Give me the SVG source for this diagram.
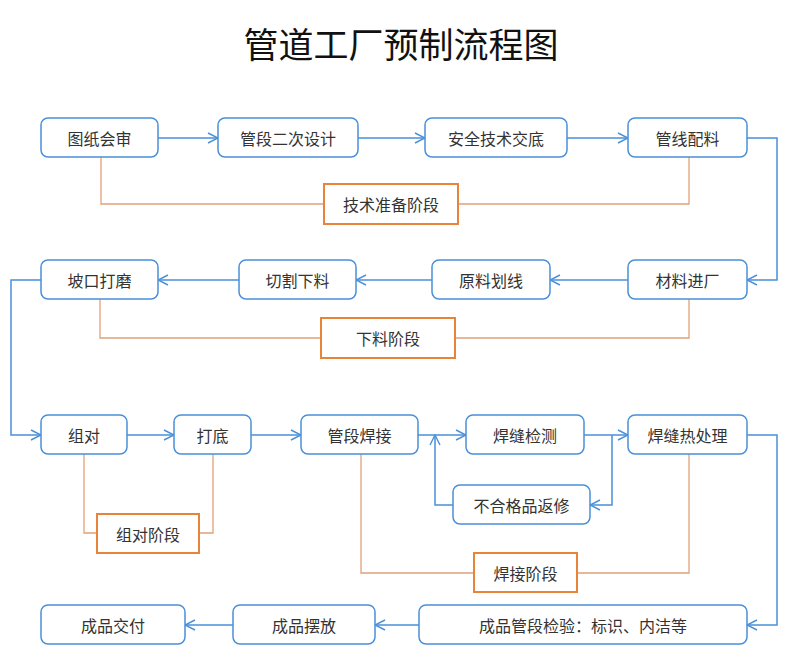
<svg xmlns="http://www.w3.org/2000/svg" width="800" height="667" viewBox="0 0 800 667">
<defs>
<marker id="a" markerWidth="12" markerHeight="12" refX="11" refY="6" orient="auto" markerUnits="userSpaceOnUse"><path d="M1,1 L11,6 L1,11" fill="none" stroke="#4a90d9" stroke-width="1.4"/></marker>
</defs>
<style>
.n rect{fill:#fff;stroke:#4a90d9;stroke-width:1.5}
.s rect{fill:#fff;stroke:#e8843a;stroke-width:2}
text{font-family:"Noto Sans CJK SC","Liberation Sans",sans-serif;font-size:16px;fill:#333;text-anchor:middle;dominant-baseline:central}
.c path{fill:none;stroke:#4a90d9;stroke-width:1.5;marker-end:url(#a)}
.b path{fill:none;stroke:#e0a07a;stroke-width:1.3}
</style>
<rect width="800" height="667" fill="#fff"/>
<text x="401" y="42" style="font-size:35px;fill:#111">管道工厂预制流程图</text>
<g class="b">
<path d="M101,157 V204 H324 M458,204 H689 V157"/>
<path d="M100,299 V338 H321 M455,338 H689 V299"/>
<path d="M84,454 V533 H97 M199,533 H213 V454"/>
<path d="M361,454 V573 H474 M577,573 H689 V454"/>
</g>
<g class="c">
<path d="M158,138 H218"/><path d="M358,138 H425"/><path d="M567,138 H628"/>
<path d="M747,138 H777 V280 H747"/>
<path d="M628,280 H550"/><path d="M432,280 H356"/><path d="M239,280 H158"/>
<path d="M41,280 H11 V435 H41"/>
<path d="M127,435 H174"/><path d="M251,435 H301"/><path d="M418,435 H466"/><path d="M584,435 H628"/>
<path d="M612,435 V505 H590"/>
<path d="M453,505 H435 V435"/>
<path d="M747,435 H777 V625 H747"/>
<path d="M419,625 H375"/><path d="M233,625 H185"/>
</g>
<g id="n1" class="n"><rect x="41" y="118" width="117" height="39" rx="7"/><text x="99.5" y="138">图纸会审</text></g>
<g id="n2" class="n"><rect x="218" y="118" width="140" height="39" rx="7"/><text x="288" y="138">管段二次设计</text></g>
<g id="n3" class="n"><rect x="425" y="118" width="142" height="39" rx="7"/><text x="496" y="138">安全技术交底</text></g>
<g id="n4" class="n"><rect x="628" y="118" width="119" height="39" rx="7"/><text x="687.5" y="138">管线配料</text></g>
<g id="s1" class="s"><rect x="324" y="184" width="134" height="40"/><text x="391" y="204">技术准备阶段</text></g>
<g id="n5" class="n"><rect x="628" y="260" width="119" height="39" rx="7"/><text x="687.5" y="280">材料进厂</text></g>
<g id="n6" class="n"><rect x="432" y="260" width="118" height="39" rx="7"/><text x="491" y="280">原料划线</text></g>
<g id="n7" class="n"><rect x="239" y="260" width="117" height="39" rx="7"/><text x="297.5" y="280">切割下料</text></g>
<g id="n8" class="n"><rect x="41" y="260" width="117" height="39" rx="7"/><text x="99.5" y="280">坡口打磨</text></g>
<g id="s2" class="s"><rect x="321" y="318" width="134" height="40"/><text x="388" y="338">下料阶段</text></g>
<g id="n9" class="n"><rect x="41" y="415" width="86" height="39" rx="7"/><text x="84" y="435">组对</text></g>
<g id="n10" class="n"><rect x="174" y="415" width="77" height="39" rx="7"/><text x="212.5" y="435">打底</text></g>
<g id="n11" class="n"><rect x="301" y="415" width="117" height="39" rx="7"/><text x="359.5" y="435">管段焊接</text></g>
<g id="n12" class="n"><rect x="466" y="415" width="118" height="39" rx="7"/><text x="525" y="435">焊缝检测</text></g>
<g id="n13" class="n"><rect x="628" y="415" width="119" height="39" rx="7"/><text x="687.5" y="435">焊缝热处理</text></g>
<g id="n14" class="n"><rect x="453" y="485" width="137" height="39" rx="7"/><text x="521.5" y="505">不合格品返修</text></g>
<g id="s3" class="s"><rect x="97" y="514" width="102" height="39"/><text x="148" y="533.5">组对阶段</text></g>
<g id="s4" class="s"><rect x="474" y="553" width="103" height="39"/><text x="525.5" y="572.5">焊接阶段</text></g>
<g id="n15" class="n"><rect x="419" y="605" width="328" height="39" rx="7"/><text x="583" y="625">成品管段检验：标识、内洁等</text></g>
<g id="n16" class="n"><rect x="233" y="605" width="142" height="39" rx="7"/><text x="304" y="625">成品摆放</text></g>
<g id="n17" class="n"><rect x="41" y="605" width="144" height="39" rx="7"/><text x="113" y="625">成品交付</text></g>
</svg>
